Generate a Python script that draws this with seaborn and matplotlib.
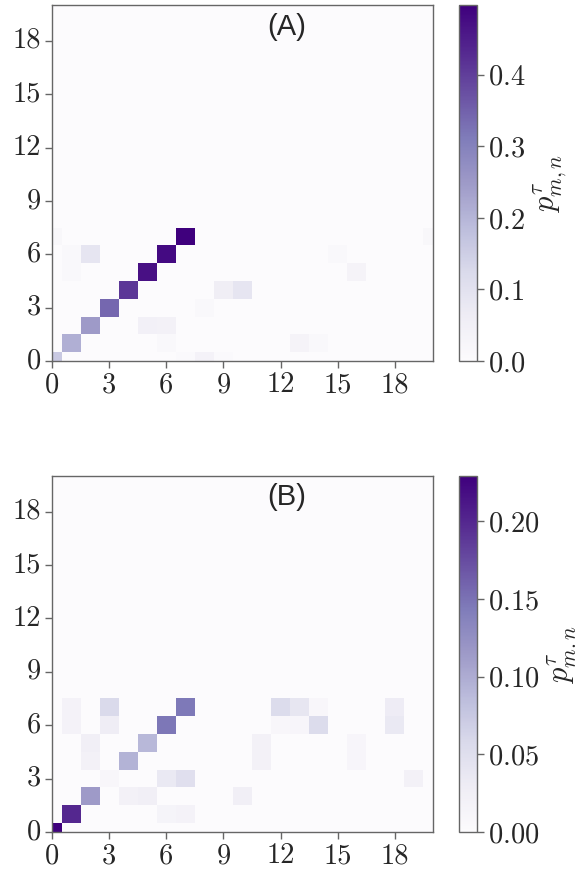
import numpy as np
import seaborn as sns
import matplotlib.pyplot as plt

n = 21
ticks = [0, 3, 6, 9, 12, 15, 18]

# panel A: column (x), row (y), value
a_cols = [0, 1, 2, 3, 4, 5, 6, 7, 0, 1, 2, 1, 5, 6, 6, 8, 9, 10, 7, 8, 9, 13, 14, 15, 16, 20]
a_rows = [0, 1, 2, 3, 4, 5, 6, 7, 7, 6, 6, 5, 2, 2, 1, 3, 4, 4, 0, 0, 0, 1, 1, 6, 5, 7]
a_vals = [0.16, 0.21, 0.25, 0.34, 0.41, 0.47, 0.48, 0.497,
          0.02, 0.015, 0.09, 0.015, 0.05, 0.045, 0.015, 0.015, 0.06, 0.09,
          0.01, 0.04, 0.01, 0.035, 0.015, 0.015, 0.035, 0.02]

# panel B
b_cols = [0, 1, 2, 4, 5, 6, 7, 3, 3, 1, 1, 2, 2, 3, 6, 7, 4, 5, 6, 7,
          10, 11, 11, 12, 13, 14, 12, 13, 14, 16, 16, 18, 18, 19]
b_rows = [0, 1, 2, 4, 5, 6, 7, 7, 6, 7, 6, 5, 4, 3, 3, 3, 2, 2, 1, 1,
          2, 5, 4, 7, 7, 7, 6, 6, 6, 5, 4, 7, 6, 3]
b_vals = [0.229, 0.20, 0.115, 0.094, 0.09, 0.147, 0.145, 0.057, 0.028, 0.018, 0.018,
          0.025, 0.02, 0.01, 0.035, 0.05, 0.02, 0.025, 0.015, 0.018,
          0.025, 0.02, 0.02, 0.055, 0.04, 0.01, 0.01, 0.012, 0.055, 0.012, 0.012,
          0.03, 0.035, 0.02]

sns.set_style("ticks")
plt.rcParams["font.family"] = "serif"
plt.rcParams["font.serif"] = ["cmr10"]
plt.rcParams["mathtext.fontset"] = "cm"
plt.rcParams["axes.formatter.use_mathtext"] = True
plt.rcParams["axes.unicode_minus"] = False


def to_grid(cols, rows, vals):
    grid = np.zeros((n, n))
    grid[rows, cols] = vals
    return grid


fig = plt.figure(figsize=(5.78, 8.72), dpi=100)

panels = [
    (to_grid(a_cols, a_rows, a_vals), "(A)", r"$p^{\tau}_{m,n}$", 0.586),
    (to_grid(b_cols, b_rows, b_vals), "(B)", r"$p^{\tau}_{m.n}$", 0.046),
]

for grid, titel, cb_label, bottom in panels:
    ax = fig.add_axes([0.09, bottom, 0.659, 0.408])
    cax = fig.add_axes([0.794, bottom, 0.031, 0.408])
    sns.heatmap(grid, ax=ax, cbar_ax=cax, cmap="Purples", vmin=0,
                cbar_kws={"label": cb_label})

    # cells centred on integers, axis from 0 to 20
    ax.set_xlim(0.5, 20.5)
    ax.set_ylim(0.5, 20.5)
    ax.set_xticks(np.array(ticks) + 0.5)
    ax.set_xticklabels(ticks, rotation=0)
    ax.set_yticks(np.array(ticks) + 0.5)
    ax.set_yticklabels(ticks, rotation=0)
    ax.tick_params(length=5, width=1, color="0.4", labelsize=20.5, pad=3)
    for s in ax.spines.values():
        s.set_visible(True)
        s.set_color("0.4")
        s.set_linewidth(1)

    ax.text(0.615, 0.94, titel, transform=ax.transAxes, ha="center", va="center",
            fontsize=21, family="Liberation Sans")

    cbar = ax.collections[0].colorbar
    cbar.outline.set_linewidth(1)
    cbar.outline.set_edgecolor("0.4")
    cax.tick_params(length=5, width=1, color="0.4", labelsize=20.5, pad=3)
    cax.yaxis.label.set_size(22)

plt.savefig("out.png", dpi=100)
plt.close()
